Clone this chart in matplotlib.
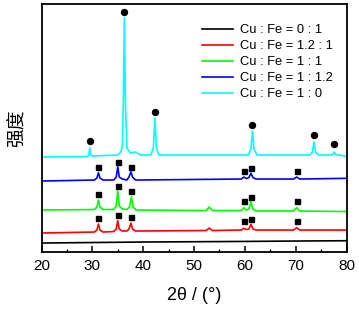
import matplotlib
matplotlib.use("Agg")
import matplotlib.pyplot as plt
from matplotlib.ticker import MultipleLocator

plt.rcParams['font.family'] = ['Liberation Sans', 'Noto Sans CJK SC', 'DejaVu Sans']

# XRD curves (intensity in arbitrary units, offset stacked)
tt_black = [20, 30, 40, 50, 60, 70, 80]
i_black = [9, 9.5, 10, 10.3, 10.6, 11, 11.3]

tt_red = [20, 30.4, 30.9, 31.2, 31.5, 32.1, 34.2, 34.7, 35.0, 35.3, 35.9, 36.8, 37.2, 37.6, 37.9, 38.5,
          52.4, 53.0, 53.6, 59.3, 59.8, 60.3, 60.8, 61.2, 61.6, 62.2, 69.6, 70.2, 70.8, 80]
i_red = [19, 20, 22, 28, 22, 20, 20.5, 23, 31.3, 23, 21, 21, 23, 29, 23, 21,
         21.5, 24, 21.5, 22, 23.7, 22.5, 23, 27.7, 23, 22, 22, 24.3, 22, 22]

tt_green = [20, 30.4, 30.9, 31.2, 31.5, 32.1, 34.2, 34.7, 35.0, 35.3, 35.9, 36.8, 37.3, 37.7, 38.0, 38.6,
            52.4, 53.0, 53.6, 59.3, 59.8, 60.3, 60.8, 61.2, 61.6, 62.2, 69.6, 70.2, 70.8, 80]
i_green = [42, 42.5, 45, 52, 45, 42.5, 42.5, 46, 61, 46, 43, 42.5, 45, 55.3, 45, 42,
           41.5, 45, 41.5, 41.5, 44.3, 42, 43, 50.3, 43, 41, 41, 44.3, 41, 40.5]

tt_blue = [20, 30.4, 30.9, 31.2, 31.5, 32.1, 34.2, 34.7, 35.0, 35.3, 35.9, 36.8, 37.2, 37.6, 37.9, 38.5,
           59.3, 59.8, 60.3, 60.8, 61.2, 61.6, 62.2, 69.6, 70.2, 70.8, 80]
i_blue = [71, 72, 74, 79.3, 74, 72, 72, 75, 85.3, 75, 73, 72, 75, 80.3, 75, 72,
          73, 75, 73.5, 74.5, 78.7, 74.5, 73, 73, 75, 73, 73.7]

tt_cyan = [20, 29.0, 29.3, 29.5, 29.7, 30.0, 35.0, 35.6, 35.9, 36.1, 36.3, 36.5, 36.8, 37.5, 38.5, 39.5,
           41.5, 42.0, 42.3, 42.6, 43.1, 60.7, 61.2, 61.5, 61.8, 62.4, 72.8, 73.3, 73.6, 73.9, 74.5,
           77.0, 77.4, 77.6, 77.8, 78.3, 80]
i_cyan = [95, 95.5, 97, 104, 97, 96, 97, 100, 106, 150, 234, 150, 104, 99, 100, 97,
          97, 104, 134, 104, 97, 97, 103, 121, 103, 97, 97, 100, 110, 100, 97,
          97, 98, 100, 98, 97, 96]

# phase markers
sq_tt = [31.2, 35.0, 37.6, 59.8, 61.2, 70.2]
sq_red = [34, 37, 35.3, 31, 33, 31]
sq_green = [57.7, 66.3, 61.3, 51.3, 55.3, 51]
sq_blue = [84.7, 89.7, 85.3, 81.3, 83.7, 81]
dot_tt = [29.5, 36.3, 42.3, 61.5, 73.6, 77.6]
dot_i = [111, 240, 140.3, 126.7, 117.3, 107.7]

labels = ["Cu : Fe = 0 : 1", "Cu : Fe = 1.2 : 1", "Cu : Fe = 1 : 1",
          "Cu : Fe = 1 : 1.2", "Cu : Fe = 1 : 0"]
colors = ["black", "#ff0000", "#00ff00", "#0000ff", "#00ffff"]

fig = plt.figure(figsize=(3.59, 3.10), dpi=100)
ax = fig.add_axes([0.1156, 0.187, 0.8496, 0.8])

curves = [(tt_black, i_black), (tt_red, i_red), (tt_green, i_green),
          (tt_blue, i_blue), (tt_cyan, i_cyan)]
for (x, y), c, lab in zip(curves, colors, labels):
    ax.plot(x, y, color=c, lw=1.2, label=lab)

for ys in (sq_red, sq_green, sq_blue):
    ax.plot(sq_tt, ys, ls="none", marker="s", ms=3.6, color="black")
ax.plot(dot_tt, dot_i, ls="none", marker="o", ms=4.3, color="black")

ax.set_xlim(20, 80)
ax.set_ylim(0, 248)
ax.xaxis.set_major_locator(MultipleLocator(10))
ax.xaxis.set_minor_locator(MultipleLocator(5))
ax.tick_params(axis="x", which="major", direction="in", length=4, width=1.1,
               labelsize=11, pad=5, top=False)
ax.tick_params(axis="x", which="minor", direction="in", length=2.5, width=1.0, top=False)
ax.set_yticks([])
for s in ax.spines.values():
    s.set_linewidth(1.3)

ax.set_xlabel("2θ / (°)", fontsize=13, labelpad=10)
ax.set_ylabel("强度", fontsize=13.5, family=['Noto Sans CJK SC', 'DejaVu Sans'], labelpad=10)

ax.legend(loc="upper right", frameon=False, fontsize=9.3, handlelength=2.35,
          handletextpad=0.55, labelspacing=0.3, borderpad=0, borderaxespad=0,
          bbox_to_anchor=(0.955, 0.918))

fig.savefig("out.png", dpi=100)
